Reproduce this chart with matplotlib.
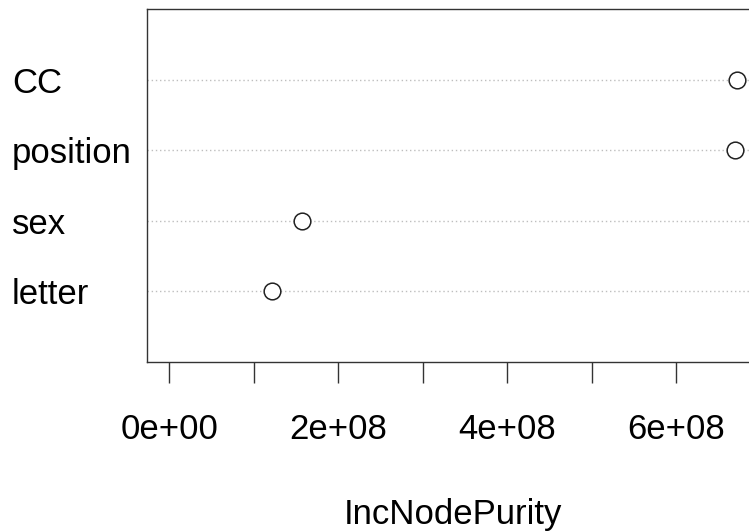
import matplotlib
matplotlib.use('Agg')
from matplotlib import pyplot as plt
import numpy as np

plt.rcParams['font.family'] = ['Liberation Sans', 'DejaVu Sans']

# variable importance from the random forest (bottom to top)
variables = ['letter', 'sex', 'position', 'CC']
purity = [1.22e8, 1.57e8, 6.69e8, 6.72e8]

tick_vals = [0, 1e8, 2e8, 3e8, 4e8, 5e8, 6e8]
tick_labels = ['0e+00', '', '2e+08', '', '4e+08', '', '6e+08']

fig = plt.figure(figsize=(7.49, 5.31), dpi=100)
ax = fig.add_axes([0.1956, 0.3183, 0.8191, 0.6642])

ypos = np.arange(1, len(variables) + 1)

# dotted guide lines across the panel
for y in ypos:
    ax.axhline(y, color='#bebebe', linestyle=(0, (1, 2)), linewidth=1, zorder=1)

ax.plot(purity, ypos, linestyle='none', marker='o', markersize=12,
        markerfacecolor='white', markeredgecolor='#222222', markeredgewidth=1.1, zorder=3)

xmax = max(purity)
pad = 0.04 * xmax
ax.set_xlim(-pad, xmax + pad)
ax.set_ylim(0, len(variables) + 1)

ax.set_xticks(tick_vals)
ax.set_xticklabels(tick_labels, fontsize=25)
ax.tick_params(axis='x', length=15, width=1, pad=21.5, color='#333333')

ax.set_yticks(ypos)
ax.set_yticklabels(variables, fontsize=25)
ax.tick_params(axis='y', length=0, pad=96.8)
for lbl in ax.get_yticklabels():
    lbl.set_horizontalalignment('left')

for s in ax.spines.values():
    s.set_color('#333333')
    s.set_linewidth(1)

ax.set_xlabel('IncNodePurity', fontsize=25, labelpad=37.5)

plt.savefig('out.png', dpi=100)
